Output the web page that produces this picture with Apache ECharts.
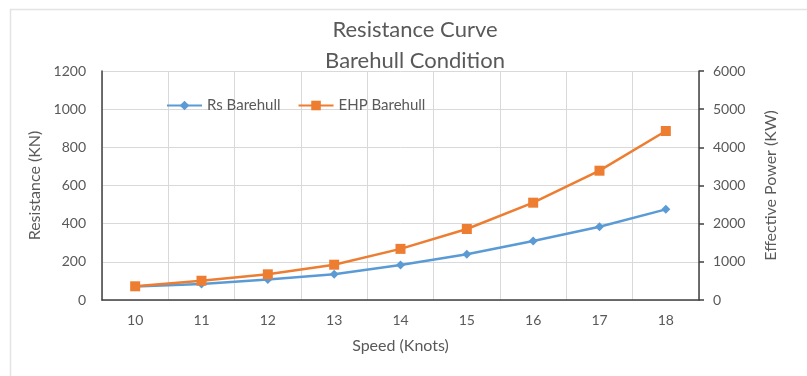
<!DOCTYPE html>
<html>
<head>
<meta charset="utf-8">
<script src="https://cdn.jsdelivr.net/npm/echarts@6/dist/echarts.min.js"></script>
<style>
html,body{margin:0;padding:0;background:#fff;}
#main{width:807px;height:376px;}
</style>
</head>
<body>
<div id="main"></div>
<script>
const titleLines = ['Resistance Curve', 'Barehull Condition'];
const categories = ['10', '11', '12', '13', '14', '15', '16', '17', '18'];
const rsBarehull = [71, 84, 108, 135, 183, 240, 309, 384, 475];
const ehpBarehull = [359, 505, 673, 925, 1340, 1860, 2550, 3388, 4428];
const seriesNames = ['Rs Barehull', 'EHP Barehull'];
const leftAxisName = 'Resistance (KN)';
const rightAxisName = 'Effective Power (KW)';
const xAxisName = 'Speed (Knots)';

const FONT = 'Lato, "Liberation Sans", sans-serif';
const TXT = '#595959';
const GRID = '#d9d9d9';
const AXIS = '#404040';
const plain = v => String(v);

const chart = echarts.init(document.getElementById('main'), null, {renderer: 'canvas'});
chart.setOption({
  backgroundColor: '#fff',
  animation: false,
  graphic: [{
    type: 'rect', left: 8, top: 7, shape: {width: 820, height: 400},
    style: {fill: 'none', stroke: '#e3e3e3', lineWidth: 1.5}, silent: true
  }],
  title: {
    text: titleLines.join('\n'),
    left: 410, top: 9, textAlign: 'center',
    textStyle: {fontFamily: FONT, fontSize: 22, fontWeight: 'normal', color: TXT, lineHeight: 31}
  },
  legend: {
    left: 161, top: 93,
    itemWidth: 35, itemHeight: 12, itemGap: 17,
    textStyle: {fontFamily: FONT, fontSize: 15, color: TXT},
    data: seriesNames
  },
  grid: {left: 102, right: 108, top: 71, bottom: 76, containLabel: false},
  xAxis: {
    type: 'category', data: categories, boundaryGap: true,
    name: xAxisName, nameLocation: 'middle', nameGap: 38,
    nameTextStyle: {fontFamily: FONT, fontSize: 16, color: TXT},
    axisLine: {show: true, lineStyle: {color: AXIS, width: 1.5}},
    axisTick: {show: false},
    axisLabel: {fontFamily: FONT, fontSize: 14, color: TXT, margin: 13},
    splitLine: {show: true, lineStyle: {color: GRID, width: 1}}
  },
  yAxis: [{
    type: 'value', min: 0, max: 1200, interval: 200,
    name: leftAxisName, nameLocation: 'middle', nameGap: 52,
    nameTextStyle: {fontFamily: FONT, fontSize: 16, color: TXT},
    axisLine: {show: true, lineStyle: {color: AXIS, width: 1.5}},
    axisTick: {show: false},
    axisLabel: {fontFamily: FONT, fontSize: 14, color: TXT, margin: 16, formatter: plain},
    splitLine: {show: true, lineStyle: {color: GRID, width: 1}}
  }, {
    type: 'value', min: 0, max: 6000, interval: 1000, position: 'right',
    name: rightAxisName, nameLocation: 'middle', nameGap: 64,
    nameTextStyle: {fontFamily: FONT, fontSize: 16, color: TXT},
    axisLine: {show: true, lineStyle: {color: AXIS, width: 1.5}},
    axisTick: {show: true, length: 5, lineStyle: {color: AXIS, width: 1.5}},
    axisLabel: {fontFamily: FONT, fontSize: 14, color: TXT, margin: 14, formatter: plain},
    splitLine: {show: false}
  }],
  series: [{
    name: seriesNames[0], type: 'line', yAxisIndex: 0,
    data: rsBarehull,
    symbol: 'diamond', symbolSize: 9, showSymbol: true,
    itemStyle: {color: '#5B9BD5'},
    lineStyle: {color: '#5B9BD5', width: 2.5},
    z: 3
  }, {
    name: seriesNames[1], type: 'line', yAxisIndex: 1,
    data: ehpBarehull,
    symbol: 'rect', symbolSize: 10, showSymbol: true,
    itemStyle: {color: '#ED7D31'},
    lineStyle: {color: '#ED7D31', width: 2.5},
    z: 4
  }]
});
</script>
</body>
</html>
